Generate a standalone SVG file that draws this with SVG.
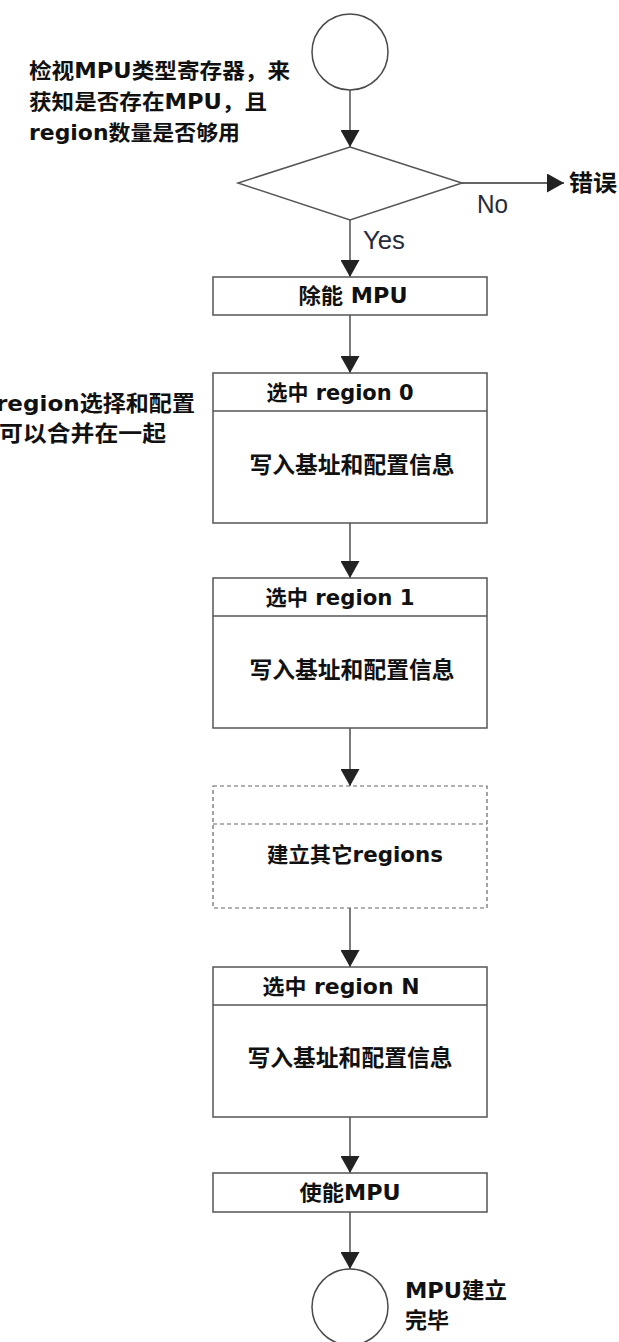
<svg xmlns="http://www.w3.org/2000/svg" width="619" height="1342" viewBox="0 0 619 1342">
<style>
.t{font-family:"DejaVu Sans","Noto Sans CJK SC",sans-serif;font-weight:bold;fill:#111;}
.lbl{font-family:"Liberation Sans",Arial,sans-serif;fill:#262a3a;}
.box{fill:#fff;stroke:#555;stroke-width:1.5;}
.dash{fill:#fff;stroke:#666;stroke-width:1.2;stroke-dasharray:4 3;}
.con{fill:none;stroke:#333;stroke-width:1.3;}
</style>
<defs>
<marker id="ah" markerUnits="userSpaceOnUse" markerWidth="17" markerHeight="19" refX="17" refY="9.5" orient="auto">
<path d="M0,0 L17,9.5 L0,19 Z" fill="#222"/>
</marker>
</defs>
<rect width="619" height="1342" fill="#fff"/>

<g id="connectors">
<line class="con" x1="350" y1="90" x2="350" y2="147" marker-end="url(#ah)"/>
<line class="con" x1="462" y1="183" x2="564" y2="183" marker-end="url(#ah)"/>
<line class="con" x1="350" y1="220" x2="350" y2="277" marker-end="url(#ah)"/>
<line class="con" x1="350" y1="315" x2="350" y2="373" marker-end="url(#ah)"/>
<line class="con" x1="350" y1="523" x2="350" y2="578" marker-end="url(#ah)"/>
<line class="con" x1="350" y1="728" x2="350" y2="786" marker-end="url(#ah)"/>
<line class="con" x1="350" y1="908" x2="350" y2="967" marker-end="url(#ah)"/>
<line class="con" x1="350" y1="1117" x2="350" y2="1173" marker-end="url(#ah)"/>
<line class="con" x1="350" y1="1212" x2="350" y2="1269" marker-end="url(#ah)"/>
<text class="lbl" x="477" y="213" font-size="26" textLength="31" lengthAdjust="spacingAndGlyphs">No</text>
<text class="lbl" x="363" y="249" font-size="26" textLength="42" lengthAdjust="spacingAndGlyphs">Yes</text>
</g>

<g id="start">
<circle cx="350" cy="52" r="38" fill="#fff" stroke="#4a4a4a" stroke-width="1.5"/>
</g>

<g id="note-check">
<text class="t" x="29" y="78" font-size="21" textLength="261" lengthAdjust="spacingAndGlyphs">检视MPU类型寄存器，来</text>
<text class="t" x="29" y="109" font-size="21" textLength="238" lengthAdjust="spacingAndGlyphs">获知是否存在MPU，且</text>
<text class="t" x="29" y="140" font-size="21" textLength="211" lengthAdjust="spacingAndGlyphs">region数量是否够用</text>
</g>

<g id="decision">
<polygon points="350,147 462,183 350,220 238,183" fill="#fff" stroke="#555" stroke-width="1.5"/>
</g>

<g id="error">
<text class="t" x="569" y="191" font-size="23" textLength="48" lengthAdjust="spacingAndGlyphs">错误</text>
</g>

<g id="disable-mpu">
<rect class="box" x="213" y="277" width="274" height="38"/>
<text class="t" x="353" y="303" font-size="21" text-anchor="middle" textLength="109" lengthAdjust="spacingAndGlyphs">除能 MPU</text>
</g>

<g id="note-merge">
<text class="t" x="-4" y="411" font-size="22" textLength="199" lengthAdjust="spacingAndGlyphs">region选择和配置</text>
<text class="t" x="-1" y="441" font-size="22" textLength="167" lengthAdjust="spacingAndGlyphs">可以合并在一起</text>
</g>

<g id="region0">
<rect class="box" x="213" y="373" width="274" height="150"/>
<line x1="213" y1="411" x2="487" y2="411" stroke="#555" stroke-width="1.5"/>
<text class="t" x="340" y="400" font-size="21" text-anchor="middle" textLength="147" lengthAdjust="spacingAndGlyphs">选中 region 0</text>
<text class="t" x="352" y="473" font-size="23" text-anchor="middle" textLength="205" lengthAdjust="spacingAndGlyphs">写入基址和配置信息</text>
</g>

<g id="region1">
<rect class="box" x="213" y="578" width="274" height="150"/>
<line x1="213" y1="616" x2="487" y2="616" stroke="#555" stroke-width="1.5"/>
<text class="t" x="340" y="605" font-size="21" text-anchor="middle" textLength="149" lengthAdjust="spacingAndGlyphs">选中 region 1</text>
<text class="t" x="352" y="678" font-size="23" text-anchor="middle" textLength="205" lengthAdjust="spacingAndGlyphs">写入基址和配置信息</text>
</g>

<g id="other-regions">
<rect class="dash" x="213" y="786" width="274" height="122"/>
<line x1="213" y1="824" x2="487" y2="824" stroke="#666" stroke-width="1.2" stroke-dasharray="4 3"/>
<text class="t" x="355" y="862" font-size="21" text-anchor="middle" textLength="176" lengthAdjust="spacingAndGlyphs">建立其它regions</text>
</g>

<g id="regionN">
<rect class="box" x="213" y="967" width="274" height="150"/>
<line x1="213" y1="1005" x2="487" y2="1005" stroke="#555" stroke-width="1.5"/>
<text class="t" x="341" y="994" font-size="21" text-anchor="middle" textLength="157" lengthAdjust="spacingAndGlyphs">选中 region  N</text>
<text class="t" x="350" y="1066" font-size="23" text-anchor="middle" textLength="205" lengthAdjust="spacingAndGlyphs">写入基址和配置信息</text>
</g>

<g id="enable-mpu">
<rect class="box" x="213" y="1173" width="274" height="39"/>
<text class="t" x="350" y="1200" font-size="21" text-anchor="middle" textLength="101" lengthAdjust="spacingAndGlyphs">使能MPU</text>
</g>

<g id="end">
<circle cx="350" cy="1307" r="38" fill="#fff" stroke="#4a4a4a" stroke-width="1.5"/>
<text class="t" x="405" y="1298" font-size="22" textLength="102" lengthAdjust="spacingAndGlyphs">MPU建立</text>
<text class="t" x="405" y="1328" font-size="22">完毕</text>
</g>
</svg>
